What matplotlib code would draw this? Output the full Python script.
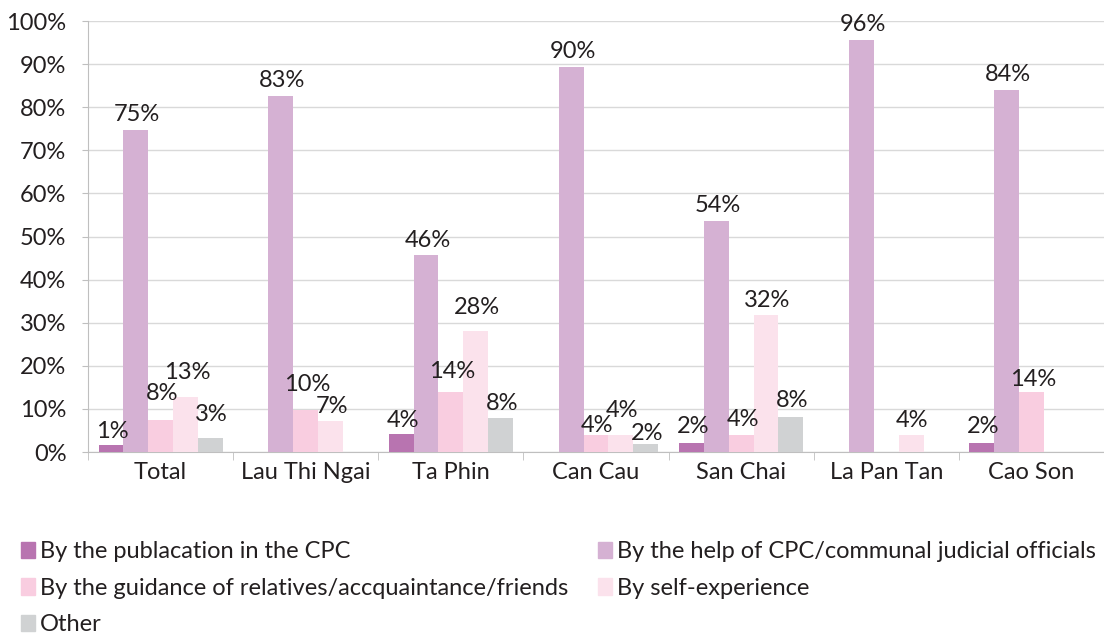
import numpy as np
import matplotlib.pyplot as plt
from matplotlib.patches import Patch

plt.rcParams['font.family'] = ['Lato', 'DejaVu Sans']

categories = ['Total', 'Lau Thi Ngai', 'Ta Phin', 'Can Cau', 'San Chai', 'La Pan Tan', 'Cao Son']
series_names = ['By the publacation in the CPC',
                'By the help of CPC/communal judicial officials',
                'By the guidance of relatives/accquaintance/friends',
                'By self-experience',
                'Other']
publication = [1.6, 0, 4.1, 0, 2.0, 0, 2.0]
cpc_help = [74.8, 82.6, 45.7, 89.3, 53.5, 95.6, 84.0]
guidance = [7.5, 9.7, 14.0, 3.9, 3.9, 0, 14.0]
self_exp = [12.8, 7.3, 28.1, 3.9, 31.7, 4.0, 0]
other = [3.2, 0, 8.0, 1.9, 8.1, 0, 0]
labels = [
    ['1%', '', '4%', '', '2%', '', '2%'],
    ['75%', '83%', '46%', '90%', '54%', '96%', '84%'],
    ['8%', '10%', '14%', '4%', '4%', '', '14%'],
    ['13%', '7%', '28%', '4%', '32%', '4%', ''],
    ['3%', '', '8%', '2%', '8%', '', ''],
]
# label gap above the bar in pixels (labels were hand-placed in the original)
label_gap = [
    [7, 8, 7, 8, 10, 8, 10],
    [9, 9, 8, 9, 9, 9, 9],
    [20, 19, 14, 3, 9, 8, 6],
    [18, 8, 17, 18, 8, 8, 8],
    [17, 8, 8, 4, 10, 8, 8],
]
colors = ['#b874b0', '#d5b1d3', '#f9cde0', '#fbe2ec', '#d0d2d3']
txt = '#231f20'

data = [publication, cpc_help, guidance, self_exp, other]

fig = plt.figure(figsize=(11.04, 6.37), dpi=100)
ax = fig.add_axes([0.0797, 0.2904, 0.9203, 0.6766])

x = np.arange(len(categories))
w = 0.171
fs = 17
for i, vals in enumerate(data):
    xs = x + (i - 2) * w
    ax.bar(xs, vals, w, color=colors[i], zorder=3)
    for xi, v, lab, gap in zip(xs, vals, labels[i], label_gap[i]):
        if lab:
            ax.annotate(lab, (xi, v), xytext=(1, gap * 0.72), textcoords='offset points',
                        ha='center', va='baseline', fontsize=fs, color=txt, zorder=4)

ax.set_xlim(-0.5, len(categories) - 0.5)
ax.set_ylim(0, 100)
ax.set_yticks(np.arange(0, 101, 10))
ax.set_yticklabels([f'{t}%' for t in range(0, 101, 10)], fontsize=fs, color=txt)
ax.set_xticks(x)
ax.set_xticklabels(categories, fontsize=fs, color=txt)
ax.set_xticks(np.arange(-0.5, len(categories)), minor=True)
ax.tick_params(axis='x', which='major', length=0, pad=7)
ax.tick_params(axis='x', which='minor', length=6, color='#bfbfbf')
ax.tick_params(axis='y', length=4.5, color='#bfbfbf', pad=11)
ax.grid(axis='y', color='#d9d9d9', linewidth=1, zorder=0)
for s in ['top', 'right']:
    ax.spines[s].set_visible(False)
ax.spines['left'].set_color('#bfbfbf')
ax.spines['bottom'].set_color('#bfbfbf')

handles = [Patch(color=c) for c in colors]
leg_kw = dict(frameon=False, fontsize=fs, handlelength=0.6, handleheight=0.68,
              handletextpad=0.2, labelspacing=0.65, borderpad=0, borderaxespad=0,
              labelcolor=txt)
fig.legend([handles[0], handles[2], handles[4]], [series_names[0], series_names[2], series_names[4]],
           loc='upper left', bbox_to_anchor=(0.019, 0.150), **leg_kw)
fig.legend([handles[1], handles[3]], [series_names[1], series_names[3]],
           loc='upper left', bbox_to_anchor=(0.5417, 0.150), **leg_kw)

fig.savefig('out.png', dpi=100)
